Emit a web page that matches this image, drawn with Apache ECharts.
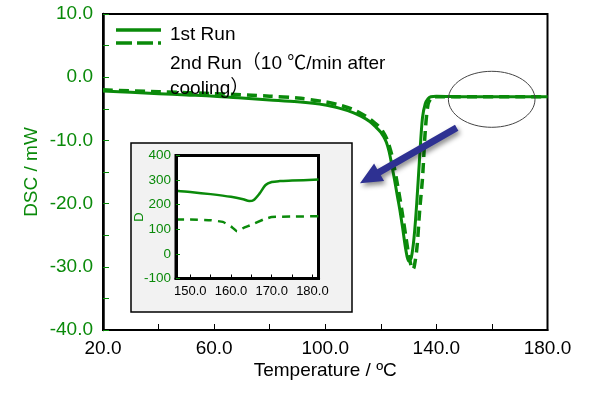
<!DOCTYPE html>
<html>
<head>
<meta charset="utf-8">
<script src="https://cdn.jsdelivr.net/npm/echarts@6/dist/echarts.min.js"></script>
<style>html,body{margin:0;padding:0;background:#fff}#c{width:605px;height:394px}</style>
</head>
<body>
<div id="c"></div>
<script>
// ---- data ----
const run1Temp = [20, 30, 40, 50, 60, 70, 80, 90, 100, 105, 110, 113, 116, 118, 120, 121, 122, 123, 124, 125, 126, 127, 128, 129, 130, 131, 132, 133, 134, 135, 136, 137, 138, 140, 150, 160, 170, 180];
const run1DSC  = [-2.2, -2.4, -2.6, -2.8, -3.0, -3.3, -3.6, -3.9, -4.4, -4.9, -5.6, -6.2, -7.0, -7.8, -8.7, -9.4, -10.3, -11.8, -14.0, -16.4, -18.9, -21.4, -24.3, -27.3, -29.1, -28.5, -25.2, -19.5, -12.5, -6.4, -4.2, -3.4, -3.1, -3.0, -3.1, -3.1, -3.1, -3.1];
const run2Temp = [20, 40, 60, 80, 90, 100, 105, 110, 115, 118, 120, 121, 122, 123, 124, 125, 126, 127, 128, 129, 130, 131, 131.5, 132, 133, 134, 135, 136, 137, 138, 139, 140, 180];
const run2DSC  = [-2.0, -2.3, -2.6, -3.0, -3.3, -3.9, -4.4, -5.1, -6.3, -7.3, -8.1, -8.8, -9.6, -10.8, -12.4, -14.6, -17.0, -19.5, -22.3, -25.2, -28.0, -30.0, -30.4, -30.0, -27.0, -21.0, -16.0, -8.5, -4.3, -3.4, -3.1, -3.1, -3.1];

const insetTemp1 = [146.5, 150, 155, 160, 163, 164.5, 165.5, 167, 168.5, 170, 172, 175, 181.5];
const insetD1    = [257, 252, 243, 232, 222, 215, 218, 245, 280, 292, 296, 298, 302];
const insetTemp2 = [146.5, 150, 155, 158, 160, 161.5, 163, 165, 168, 170, 175, 181.5];
const insetD2    = [140, 140, 137, 130, 112, 92, 105, 118, 140, 150, 152, 153];

const mainXLabels = [20, 60, 100, 140, 180];
const insetXLabels = [150, 160, 170, 180];
const insetXTicks = [150, 155, 160, 165, 170, 175, 180];

const seriesNames = ['1st Run', '2nd Run（10 ℃/min after\ncooling）'];
// ---- chart ----
const GREEN = '#0a8a0a';
const FONT = '"Liberation Sans", Arial, "Noto Sans CJK JP", sans-serif';
const zip = (a, b) => a.map((v, i) => [v, b[i]]);

const chart = echarts.init(document.getElementById('c'), null, {renderer: 'canvas'});
chart.setOption({
  animation: false,
  textStyle: {fontFamily: FONT},
  grid: [
    {left: 103, top: 14, width: 444.5, height: 316, show: true, borderColor: '#000', borderWidth: 2, backgroundColor: 'transparent', containLabel: false},
    {left: 176, top: 155.5, width: 142.5, height: 123, show: true, borderColor: '#000', borderWidth: 3, backgroundColor: '#fff', z: 3, containLabel: false}
  ],
  xAxis: [
    {gridIndex: 0, type: 'value', min: 20, max: 180, interval: 20,
     name: 'Temperature / ºC', nameLocation: 'middle', nameGap: 31, nameMoveOverlap: false,
     nameTextStyle: {color: '#000', fontSize: 19, fontFamily: FONT},
     axisLine: {onZero: false, lineStyle: {color: '#000', width: 2}},
     axisTick: {inside: true, length: 6, lineStyle: {color: '#000', width: 1}},
     axisLabel: {color: '#000', fontSize: 19, margin: 9, fontFamily: FONT,
       formatter: v => mainXLabels.indexOf(v) >= 0 ? v.toFixed(1) : ''},
     splitLine: {show: false}},
    {gridIndex: 1, type: 'value', min: 146.5, max: 181.5, z: 6,
     axisLine: {onZero: false, lineStyle: {color: '#000', width: 3}},
     axisTick: {inside: true, length: 4, customValues: insetXTicks, lineStyle: {color: '#000', width: 1}},
     axisLabel: {color: '#000', fontSize: 13, margin: 6, fontFamily: FONT, customValues: insetXLabels,
       formatter: v => v.toFixed(1)},
     splitLine: {show: false}}
  ],
  yAxis: [
    {gridIndex: 0, type: 'value', min: -40, max: 10, interval: 5,
     name: 'DSC / mW', nameLocation: 'middle', nameGap: 62, nameMoveOverlap: false,
     nameTextStyle: {color: GREEN, fontSize: 19, fontFamily: FONT},
     axisLine: {onZero: false, lineStyle: {color: '#000', width: 2.5}},
     axisTick: {inside: true, length: 6, lineStyle: {color: GREEN, width: 1}},
     axisLabel: {color: GREEN, fontSize: 19, margin: 10, fontFamily: FONT,
       formatter: v => (Math.round(v) % 10 === 0) ? v.toFixed(1) : ''},
     splitLine: {show: false}},
    {gridIndex: 1, type: 'value', min: -100, max: 400, interval: 100, z: 6,
     name: 'D', nameLocation: 'middle', nameGap: 30, nameMoveOverlap: false,
     nameTextStyle: {color: GREEN, fontSize: 13, fontFamily: FONT},
     axisLine: {onZero: false, lineStyle: {color: '#000', width: 3}},
     axisTick: {inside: true, length: 4, lineStyle: {color: GREEN, width: 1}},
     axisLabel: {color: GREEN, fontSize: 13.5, margin: 5, fontFamily: FONT},
     splitLine: {show: false}}
  ],
  series: [
    {name: seriesNames[0], type: 'line', xAxisIndex: 0, yAxisIndex: 0, data: zip(run1Temp, run1DSC),
     showSymbol: false, smooth: 0.3, lineStyle: {color: GREEN, width: 3}, z: 3},
    {name: seriesNames[1], type: 'line', xAxisIndex: 0, yAxisIndex: 0, data: zip(run2Temp, run2DSC),
     showSymbol: false, smooth: 0.3, lineStyle: {color: GREEN, width: 3.5, type: [10, 6]}, z: 3},
    {name: seriesNames[0] + ' inset', type: 'line', xAxisIndex: 1, yAxisIndex: 1, data: zip(insetTemp1, insetD1),
     showSymbol: false, smooth: 0.3, lineStyle: {color: GREEN, width: 2.5}, z: 5},
    {name: seriesNames[1] + ' inset', type: 'line', xAxisIndex: 1, yAxisIndex: 1, data: zip(insetTemp2, insetD2),
     showSymbol: false, smooth: 0.1, lineStyle: {color: GREEN, width: 2.5, type: [8, 6]}, z: 5}
  ],
  graphic: [
    {type: 'rect', z: 1, shape: {x: 131, y: 143, width: 221, height: 169},
     style: {fill: '#f2f2f2', stroke: '#000', lineWidth: 1.5}},
    {type: 'line', z: 10, shape: {x1: 116, y1: 30, x2: 161, y2: 30}, style: {stroke: GREEN, lineWidth: 3.5}},
    {type: 'line', z: 10, shape: {x1: 116, y1: 43, x2: 161, y2: 43}, style: {stroke: GREEN, lineWidth: 3.5, lineDash: [16, 5]}},
    {type: 'text', z: 10, left: 170, top: 25, style: {text: seriesNames[0], fill: '#000', font: '19px ' + FONT}},
    {type: 'text', z: 10, left: 170, top: 51, style: {text: seriesNames[1], fill: '#000', font: '19px ' + FONT, lineHeight: 25}},
    {type: 'ellipse', z: 10, shape: {cx: 491.7, cy: 99.3, rx: 43.3, ry: 28},
     style: {fill: 'none', stroke: '#444', lineWidth: 1}},
    {type: 'polygon', z: 10,
     shape: {points: [[455.0, 124.7], [377.3, 169.3], [374.1, 163.6], [360, 183.3], [384.1, 181.0], [380.8, 175.3], [458.4, 130.7]]},
     style: {fill: '#2e3192', shadowBlur: 5, shadowColor: 'rgba(0,0,0,0.45)', shadowOffsetX: 2, shadowOffsetY: 3}}
  ]
});
</script>
</body>
</html>
